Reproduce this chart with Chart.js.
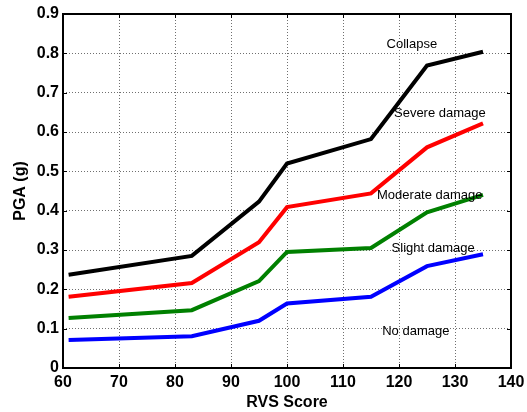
<!DOCTYPE html>
<html lang="en">
  <head>
    <meta charset="UTF-8" />
    <title>PGA vs RVS Score</title>
    <style>
      body {
        margin: 0;
        padding: 0;
        background: #ffffff;
      }
      #wrap {
        width: 527px;
        height: 412px;
      }
    </style>
  </head>
  <body>
    <div id="wrap"><canvas id="chart" width="527" height="412"></canvas></div>
    <script src="https://cdn.jsdelivr.net/npm/chart.js"></script>
    <script>
      // RVS scores where each curve bends
      const rvsScores = [61, 83, 95, 100, 115, 125, 135];

      // PGA (g) per damage state
      const collapse = [0.237, 0.285, 0.423, 0.52, 0.582, 0.769, 0.804];
      const severeDamage = [0.181, 0.216, 0.32, 0.409, 0.444, 0.561, 0.622];
      const moderateDamage = [0.127, 0.147, 0.221, 0.295, 0.305, 0.396, 0.44];
      const slightDamage = [0.071, 0.081, 0.12, 0.164, 0.181, 0.259, 0.289];

      const seriesNames = ["Collapse", "Severe damage", "Moderate damage", "Slight damage"];
      const seriesColors = ["#000000", "#ff0000", "#008000", "#0000ff"];

      // text labels inside the plot (data units)
      const noteTexts = ["Collapse", "Severe damage", "Moderate damage", "Slight damage", "No damage"];
      const noteX = [122.3, 127.3, 125.5, 126.1, 123.0];
      const noteY = [0.822, 0.648, 0.44, 0.305, 0.092];

      const xTicks = [60, 70, 80, 90, 100, 110, 120, 130, 140];
      const yTicks = [0, 0.1, 0.2, 0.3, 0.4, 0.5, 0.6, 0.7, 0.8, 0.9];

      const allSeries = [collapse, severeDamage, moderateDamage, slightDamage];

      const datasets = allSeries.map((vals, i) => ({
        label: seriesNames[i],
        data: vals.map((v, j) => ({ x: rvsScores[j], y: v })),
        borderColor: seriesColors[i],
        backgroundColor: seriesColors[i],
        borderWidth: 4,
        pointRadius: 0,
        tension: 0,
        fill: false,
      }));

      // box around the plot + inward tick marks + labels
      const framePlugin = {
        id: "frame",
        afterDatasetsDraw(chart) {
          const { ctx, chartArea: a, scales } = chart;
          const xs = scales.x;
          const ys = scales.y;
          ctx.save();
          ctx.font = "13px Arial, 'Liberation Sans', sans-serif";
          ctx.fillStyle = "#000";
          ctx.textAlign = "center";
          ctx.textBaseline = "middle";
          noteTexts.forEach((t, i) => {
            ctx.fillText(t, xs.getPixelForValue(noteX[i]), ys.getPixelForValue(noteY[i]));
          });

          ctx.strokeStyle = "#000";
          ctx.lineWidth = 1;
          ctx.beginPath();
          xTicks.forEach((v) => {
            const px = Math.round(xs.getPixelForValue(v)) + 0.5;
            ctx.moveTo(px, a.bottom);
            ctx.lineTo(px, a.bottom - 4);
            ctx.moveTo(px, a.top);
            ctx.lineTo(px, a.top + 4);
          });
          yTicks.forEach((v) => {
            const py = Math.round(ys.getPixelForValue(v)) + 0.5;
            ctx.moveTo(a.left, py);
            ctx.lineTo(a.left + 4, py);
            ctx.moveTo(a.right, py);
            ctx.lineTo(a.right - 4, py);
          });
          ctx.stroke();

          ctx.lineWidth = 2;
          ctx.strokeRect(a.left, a.top, a.right - a.left, a.bottom - a.top);
          ctx.restore();
        },
      };

      const tickFont = { family: "Arial, 'Liberation Sans', sans-serif", size: 16, weight: "bold" };
      const titleFont = { family: "Arial, 'Liberation Sans', sans-serif", size: 16, weight: "bold" };

      new Chart(document.getElementById("chart"), {
        type: "line",
        data: { datasets: datasets },
        options: {
          responsive: false,
          animation: false,
          layout: { padding: { top: 14, right: 16, left: 11, bottom: 0 } },
          plugins: {
            legend: { display: false },
            tooltip: { enabled: false },
          },
          scales: {
            x: {
              type: "linear",
              min: 60,
              max: 140,
              afterBuildTicks: (s) => {
                s.ticks = xTicks.map((v) => ({ value: v }));
              },
              afterFit: (s) => {
                s.height = 44;
                s.paddingLeft = 0;
                s.paddingRight = 0;
              },
              grid: {
                color: "#6f6f6f",
                lineWidth: 1,
                drawTicks: false,
              },
              border: { display: false, dash: [1, 2] },
              ticks: {
                color: "#000",
                font: tickFont,
                padding: 5,
                maxRotation: 0,
              },
              title: {
                display: true,
                text: "RVS Score",
                color: "#000",
                font: titleFont,
                padding: { top: 0, bottom: 0 },
              },
            },
            y: {
              type: "linear",
              min: 0,
              max: 0.9,
              afterBuildTicks: (s) => {
                s.ticks = yTicks.map((v) => ({ value: v }));
              },
              afterFit: (s) => {
                s.width = 52;
                s.paddingTop = 0;
                s.paddingBottom = 0;
              },
              grid: {
                color: "#6f6f6f",
                lineWidth: 1,
                drawTicks: false,
              },
              border: { display: false, dash: [1, 2] },
              ticks: {
                color: "#000",
                font: tickFont,
                padding: 4,
                callback: (v) => (v === 0 ? "0" : v.toFixed(1)),
              },
              title: {
                display: true,
                text: "PGA (g)",
                color: "#000",
                font: titleFont,
                padding: { top: 0, bottom: 0 },
              },
            },
          },
        },
        plugins: [framePlugin],
      });
    </script>
  </body>
</html>
